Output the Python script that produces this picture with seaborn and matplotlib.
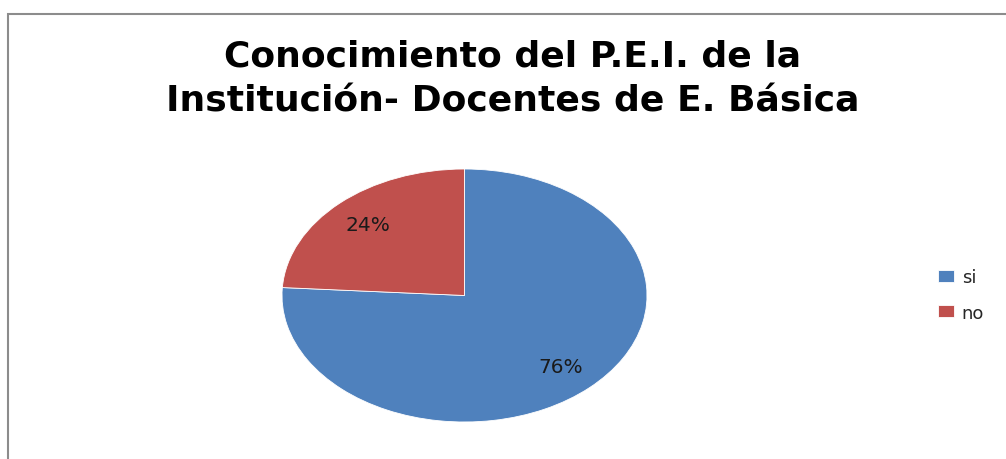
import matplotlib
matplotlib.use("Agg")
import matplotlib.pyplot as plt
from matplotlib.patches import Rectangle
import seaborn as sns

# Datos
categorias = ["si", "no"]
valores = [76, 24]
colores = ["#4F81BD", "#C0504D"]
titulo = ["Conocimiento del P.E.I. de la", "Institución- Docentes de E. Básica"]

sns.set_theme(style="white")
plt.rcParams["font.family"] = ["DejaVu Sans"]

W, H = 1006, 460
fig = plt.figure(figsize=(W / 100, H / 100), dpi=100)

# Marco del gráfico (solo se ven los bordes izquierdo y superior)
fig.patches.append(Rectangle((8 / W, -0.05), 1.1, (H - 15) / H + 0.05,
                             transform=fig.transFigure, fill=False,
                             edgecolor="#8c8c8c", linewidth=1.5))

# Ejes del pastel (elipse estirada horizontalmente)
ax = fig.add_axes([282 / W, (H - 423) / H, 365 / W, 253 / H])
wedges, textos, autotextos = ax.pie(
    valores, colors=colores, startangle=90, counterclock=False,
    autopct="%1.0f%%", pctdistance=0.77,
    wedgeprops=dict(linewidth=0.6, edgecolor="white"),
    textprops=dict(fontsize=14.5, color="#1a1a1a"))
ax.set_aspect("auto")
ax.set_xlim(-1, 1)
ax.set_ylim(-1, 1)
ax.axis("off")

# Título en dos líneas
for linea, y in zip(titulo, [67, 112]):
    fig.text(513 / W, 1 - y / H, linea, ha="center", va="baseline",
             fontsize=26, fontweight="bold", color="black")

fig.legend(wedges, categorias, loc="center left",
           bbox_to_anchor=(922 / W, 1 - 296 / H), frameon=False,
           fontsize=13, handlelength=0.85, handleheight=0.6,
           handletextpad=0.45, labelspacing=0.95)

fig.savefig("out.png", dpi=100)
